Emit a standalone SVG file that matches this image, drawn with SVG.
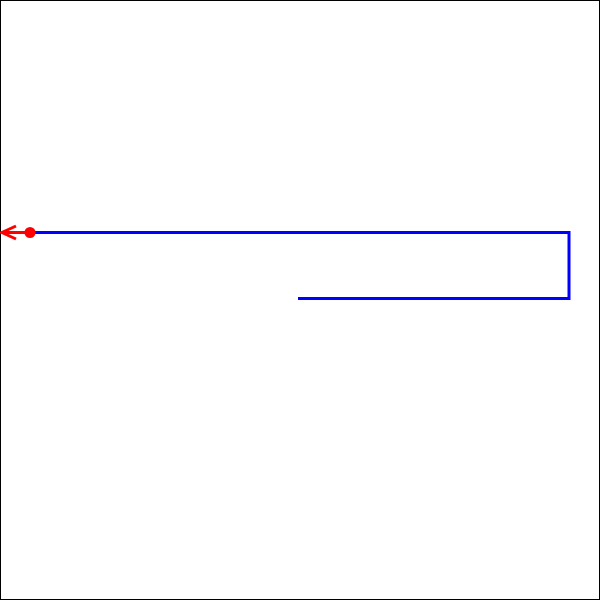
<svg xmlns="http://www.w3.org/2000/svg" width="600" height="600" viewBox="0 0 600 600">
<style>
.frame{fill:#fff;stroke:#000;stroke-width:1}
.wire{fill:none;stroke:#0000ff;stroke-width:3}
.lead{fill:none;stroke:#ff0000;stroke-width:3}
</style>
<defs>
<marker id="arr" viewBox="0 0 10 10" refX="1" refY="5" markerWidth="5" markerHeight="5" orient="auto-start-reverse" markerUnits="strokeWidth">
<path d="M9,1 L1,5 L9,9" fill="none" stroke="#ff0000" stroke-width="2"/>
</marker>
</defs>
<rect class="frame" x="0.5" y="0.5" width="599" height="599"/>
<g id="connectors">
<polyline class="wire" points="298,298.5 569,298.5 569,232.5 30,232.5"/>
<line class="lead" x1="30" y1="232.5" x2="2" y2="232.5"/>
<path d="M16,226 L2,232.5 L16,239" fill="none" stroke="#ff0000" stroke-width="3"/>
<circle cx="30" cy="232.5" r="5.5" fill="#ff0000"/>
</g>
</svg>
